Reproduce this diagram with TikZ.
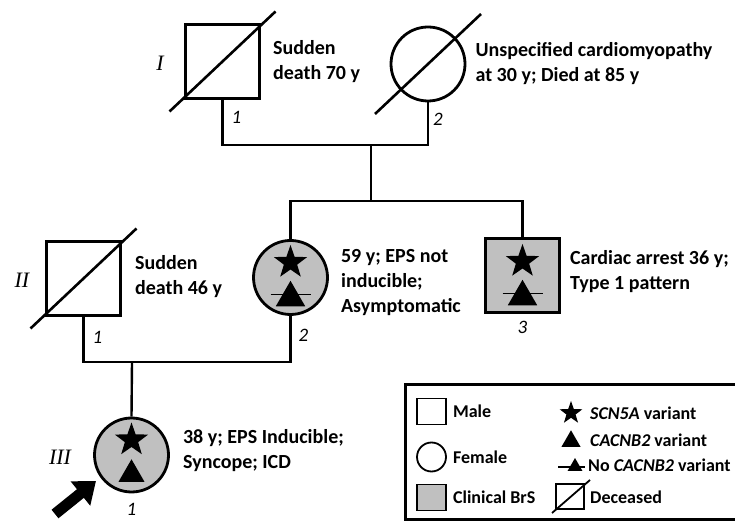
\documentclass[tikz,border=0pt]{standalone}
\usepackage{fontspec}
\setmainfont{Carlito}
\newfontfamily\romanfont{Liberation Serif}
\usetikzlibrary{shapes.geometric,arrows.meta}
\definecolor{brsgray}{RGB}{192,192,192}

\tikzset{male/.style={draw, line width=2.8pt, minimum size=74pt, inner sep=0pt},
    female/.style={male, circle},
    brs/.style={fill=brsgray},
    deadline/.style={line width=2.6pt},
    link/.style={line width=2.4pt},
    starmark/.style={star, star points=5, star point ratio=2.5, fill=black, inner sep=0pt, minimum size=35pt},
    trimark/.style={regular polygon, regular polygon sides=3, fill=black, inner sep=0pt, minimum size=34pt, anchor=south},
    barline/.style={line width=1.8pt},
    info/.style={anchor=west, align=left, font=\bfseries\fontsize{20}{25}\selectfont, inner sep=0pt},
    num/.style={font=\itshape\fontsize{19}{19}\selectfont, inner sep=0pt},
    gen/.style={font=\romanfont\itshape\fontsize{22}{22}\selectfont, inner sep=0pt},
    keybox/.style={draw, line width=1.8pt, minimum width=29pt, minimum height=26pt, inner sep=0pt},
    key/.style={anchor=west, font=\bfseries\fontsize{18}{18}\selectfont, inner sep=0pt},
    proband/.style={line width=11pt, -{Triangle[length=20pt, width=30pt]}}}

\newcommand{\dead}[1]{\draw[deadline] ([xshift=-53pt, yshift=-50pt]#1.center) -- ([xshift=53pt, yshift=50pt]#1.center);}

\begin{document}
\begin{tikzpicture}[x=1pt, y=1pt]
    \useasboundingbox (0,0) rectangle (735,521);

    % generation I
    \node[male] (I1) at (222.5,459.5) {};
    \node[female] (I2) at ([xshift=205.5pt, yshift=-2.5pt] I1.center) {};
    \dead{I1}
    \dead{I2}
    \node[info] (I1txt) at ([xshift=12pt] I1.east) {Sudden\\death 70 y};
    \node[info] (I2txt) at ([xshift=9pt] I2.east) {Unspecified cardiomyopathy\\at 30 y; Died at 85 y};
    \node[gen] (genI) at (160,458) {I};
    \node[num] (I1num) at ([xshift=14pt, yshift=-17pt] I1.south) {1};
    \node[num] (I2num) at ([xshift=10pt, yshift=-17pt] I2.south) {2};

    % generation II
    \node[male] (II1) at ([xshift=-139pt, yshift=-217pt] I1.center) {};
    \node[female, brs] (II2) at ([xshift=68pt, yshift=-216pt] I1.center) {};
    \node[male, brs] (II3) at ([xshift=300pt, yshift=-214pt] I1.center) {};
    \dead{II1}
    \node[info] (II1txt) at ([xshift=13pt, yshift=2pt] II1.east) {Sudden\\death 46 y};
    \node[info] (II2txt) at ([xshift=12pt, yshift=-5pt] II2.east) {59 y; EPS not\\inducible;\\Asymptomatic};
    \node[info] (II3txt) at ([xshift=9pt, yshift=4pt] II3.east) {Cardiac arrest 36 y;\\Type 1 pattern};
    \node[gen] (genII) at (22,241) {II};
    \node[num] (II1num) at ([xshift=14pt, yshift=-20pt] II1.south) {1};
    \node[num] (II2num) at ([xshift=13pt, yshift=-19pt] II2.south) {2};
    \node[num] (II3num) at ([yshift=-14pt] II3.south) {3};

    \node[starmark] (II2star) at ([yshift=15pt] II2.center) {};
    \node[trimark] (II2tri) at ([yshift=-29pt] II2.center) {};
    \draw[barline] ([xshift=-20pt, yshift=12pt] II2tri.south) -- ([xshift=20pt, yshift=12pt] II2tri.south);
    \node[starmark] (II3star) at ([yshift=14pt] II3.center) {};
    \node[trimark] (II3tri) at ([yshift=-30pt] II3.center) {};
    \draw[barline] ([xshift=-20pt, yshift=12pt] II3tri.south) -- ([xshift=20pt, yshift=12pt] II3tri.south);

    % generation III
    \node[female, brs] (III1) at ([xshift=-91pt, yshift=-393.5pt] I1.center) {};
    \node[info] (III1txt) at ([xshift=13pt, yshift=4pt] III1.east) {38 y; EPS Inducible;\\Syncope; ICD};
    \node[gen] (genIII) at (60,64) {III};
    \node[num] (III1num) at ([yshift=-16pt] III1.south) {1};
    \node[starmark] (III1star) at ([yshift=15pt] III1.center) {};
    \node[trimark, minimum size=30pt] (III1tri) at ([yshift=-27pt] III1.center) {};

    % lines of descent
    \coordinate (m1) at (371,376);
    \coordinate (s1) at (371,320);
    \coordinate (m2) at (132,159);
    \draw[link] (I1.south) |- (m1) -| (I2.south);
    \draw[link] (m1) -- (s1);
    \draw[link] (II2.north) |- (s1) -| (II3.north);
    \draw[link] (II1.south) |- (m2) -| (II2.south);
    \draw[link] (m2) -- (III1.north);

    \coordinate (pa) at (55,7);
    \draw[proband] (pa) -- ([xshift=-35.5pt, yshift=-26pt] III1.center);

    % legend
    \draw[line width=3pt] (405,1) rectangle (745,136);
    \node[keybox] (kmale) at (431.5,109.5) {};
    \node[draw, circle, line width=1.8pt, minimum size=29pt, inner sep=0pt] (kfemale) at (431.5,64) {};
    \node[keybox, brs] (kbrs) at (431.5,23.5) {};
    \node[key] (kmaletxt) at ([xshift=6pt] kmale.east) {Male};
    \node[key] (kfemaletxt) at ([xshift=6pt] kfemale.east) {Female};
    \node[key] (kbrstxt) at ([xshift=6pt] kbrs.east) {Clinical BrS};

    \node[starmark, minimum size=24pt] (kstar) at (571,108) {};
    \node[trimark, minimum size=22pt] (ktri) at (571,74) {};
    \node[trimark, minimum size=17pt] (knotri) at (575,50) {};
    \draw[barline] ([xshift=-17pt, yshift=4pt] knotri.south) -- ([xshift=10pt, yshift=4pt] knotri.south);
    \node[keybox, minimum width=28pt, minimum height=25pt] (kdead) at (570,24.5) {};
    \draw[barline] ([xshift=-18pt, yshift=-16.5pt] kdead.center) -- ([xshift=20pt, yshift=16.5pt] kdead.center);
    \node[key] (kstartxt) at (590,108) {\textit{SCN5A} variant};
    \node[key] (ktritxt) at (590,81) {\textit{CACNB2} variant};
    \node[key] (knotritxt) at (588,56) {No \textit{CACNB2} variant};
    \node[key] (kdeadtxt) at (590,24) {Deceased};
\end{tikzpicture}
\end{document}
